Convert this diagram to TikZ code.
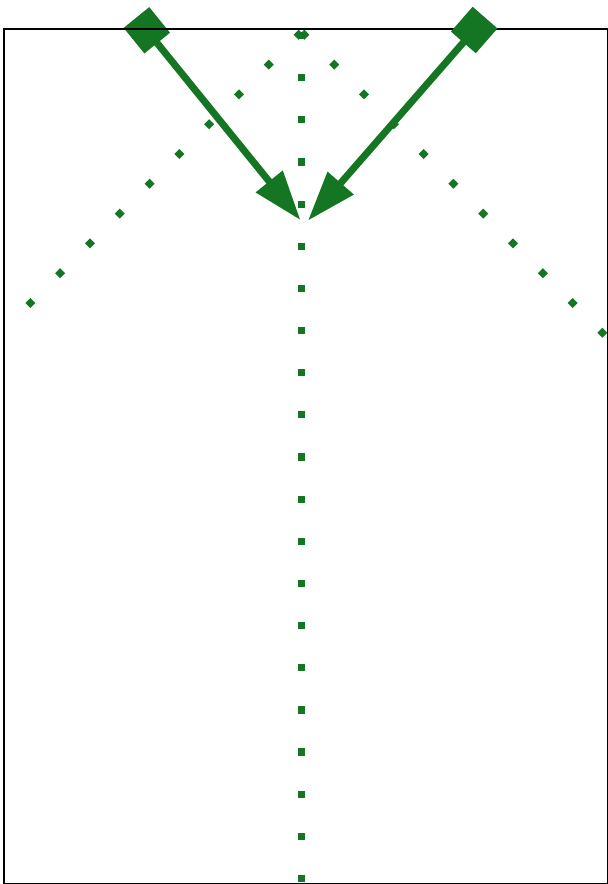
\documentclass[tikz,border=0pt]{standalone}
\usetikzlibrary{calc}
\definecolor{dkgreen}{RGB}{20,118,34}
\tikzset{
  frame/.style={draw=black, line width=2pt},
  sqmark/.style={fill=dkgreen},
  dmmark/.style={fill=dkgreen},
  shaft/.style={draw=dkgreen, line width=7pt},
  tipfill/.style={fill=dkgreen},
}
\newcommand{\bigarrowdraw}[2]{%
  % #1 = tail centre, #2 = tip
  \fill[tipfill] ($(#1)!23.3pt!45:(#2)$) -- ($(#1)!23.3pt!135:(#2)$) -- ($(#1)!23.3pt!225:(#2)$) -- ($(#1)!23.3pt!315:(#2)$) -- cycle;
  \coordinate (#1base) at ($(#2)!49pt!(#1)$);
  \draw[shaft] (#1) -- ($(#1base)!2pt!(#2)$);
  \fill[tipfill] (#2) -- ($(#1base)!17.5pt!90:(#2)$) -- ($(#1base)!17.5pt!-90:(#2)$) -- cycle;
}
\begin{document}
\begin{tikzpicture}[x=1pt,y=-1pt]
\useasboundingbox (0,0) rectangle (608,884);
% vertical dotted line (square marks)
\foreach \k in {0,...,20}{
  \fill[sqmark] ({301.6-3.6},{35.5+42.15*\k-3.6}) rectangle +(7.2,7.2);
}
% left diagonal (diamond marks)
\foreach \k in {0,...,9}{
  \fill[dmmark] ({298.6-29.8*\k},{34.8+29.8*\k}) +(5,0) -- +(0,5) -- +(-5,0) -- +(0,-5) -- cycle;
}
% right diagonal (diamond marks)
\foreach \k in {0,...,10}{
  \fill[dmmark] ({304.4+29.8*\k},{34.8+29.8*\k}) +(5,0) -- +(0,5) -- +(-5,0) -- +(0,-5) -- cycle;
}
% arrows
\coordinate (A) at (146.8,30.3);
\coordinate (T1) at (300,219.5);
\coordinate (B) at (474.2,30);
\coordinate (T2) at (308.5,220);
\bigarrowdraw{A}{T1}
\draw[frame] (4.3,29) rectangle (608,884);
\bigarrowdraw{B}{T2}
\end{tikzpicture}
\end{document}
